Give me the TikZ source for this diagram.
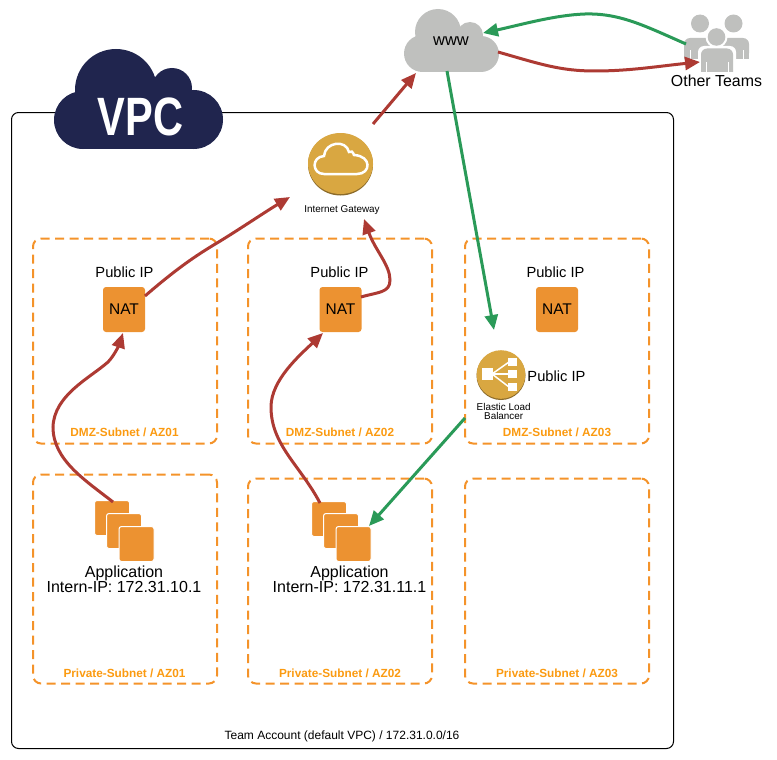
\documentclass[tikz,border=0pt]{standalone}
\usepackage{fontspec}
\setmainfont{Liberation Sans}
\usetikzlibrary{arrows.meta}
\definecolor{navy}{HTML}{20254E}
\definecolor{orangeA}{HTML}{EC9231}
\definecolor{dashO}{HTML}{F4932A}
\definecolor{labelO}{HTML}{FB9A10}
\definecolor{goldA}{HTML}{D9A741}
\definecolor{goldB}{HTML}{8C6B2A}
\definecolor{greyA}{HTML}{BFC0BE}
\definecolor{redA}{HTML}{AD3A33}
\definecolor{greenA}{HTML}{2A9A58}
\tikzset{
 x=1pt,y=-1pt,
 subnet/.style={draw=dashO,line width=2pt,dash pattern=on 9pt off 5.5pt,rounded corners=8pt,minimum width=184pt,inner sep=0pt},
 natbox/.style={fill=orangeA,rounded corners=3pt,minimum width=42pt,minimum height=45pt,inner sep=0pt,text=black,font=\fontsize{15.5}{17}\selectfont},
 appbox/.style={fill=orangeA,draw=white,line width=1pt,rounded corners=2.5pt,minimum width=35pt,minimum height=35pt,inner sep=0pt},
 lbl/.style={inner sep=0pt,font=\fontsize{14.7}{16.5}\selectfont,align=center},
 applbl/.style={inner sep=0pt,font=\fontsize{16}{15.5}\selectfont,align=center},
 sublbl/.style={inner sep=0pt,text=labelO,font=\fontsize{11.8}{13}\selectfont\bfseries},
 tiny/.style={inner sep=0pt,font=\fontsize{9.9}{9.3}\selectfont,align=center},
 redline/.style={draw=redA,line width=3pt,-{Triangle[length=15pt,width=13pt]}},
 greenline/.style={draw=greenA,line width=3pt,-{Triangle[length=15pt,width=13pt]}},
}
\begin{document}
\begin{tikzpicture}
\useasboundingbox (0,0) rectangle (777,760);
% account frame
\node[draw=black,line width=1pt,rounded corners=7pt,minimum width=662pt,minimum height=636pt,inner sep=0pt] (account) at (342.5,430.5) {};
\node[inner sep=0pt,font=\fontsize{12}{13}\selectfont] (accountlbl) at (342,736.5) {Team Account (default VPC) / 172.31.0.0/16};
% VPC cloud
\fill[navy] (116,90) circle (41);
\fill[navy] (172,88) circle (20);
\fill[navy] (83,120) circle (29);
\fill[navy] (193.5,119.5) circle (29.5);
\fill[navy] (83,100) rectangle (193,149);
\node[inner sep=0pt,text=white,font=\fontsize{54}{54}\selectfont\bfseries,xscale=0.77] (vpc) at (140.5,116.5) {VPC};
% www cloud
\fill[greyA] (438,32) circle (23);
\fill[greyA] (470,35) circle (13);
\fill[greyA] (422.5,53.5) circle (18.5);
\fill[greyA] (481,54) circle (18);
\fill[greyA] (422,38) rectangle (481,72);
\node[inner sep=0pt,font=\fontsize{16.5}{18}\selectfont] (www) at (451,41) {www};
% people
\fill[greyA] (700,23.5) circle (9);
\fill[greyA] (733.5,23.5) circle (9);
\fill[greyA,rounded corners=6pt] (684,59) -- (684,38) -- (749,38) -- (749,59) -- cycle;
\fill[greyA] (684,50) rectangle (749,59);
\fill[white] (690,50) rectangle (691,59);
\fill[white] (743,50) rectangle (744,59);
\fill[white] (716.5,37) circle (11);
\fill[greyA] (716.5,37) circle (8.8);
\fill[white,rounded corners=6pt] (698,75) -- (698,46) -- (736,46) -- (736,75) -- cycle;
\fill[greyA,rounded corners=6pt] (701,80) -- (701,48.5) -- (733,48.5) -- (733,80) -- cycle;
\fill[white] (685,72) rectangle (749,84);
\fill[white] (705.5,62) rectangle (706.5,72);
\fill[white] (728,62) rectangle (729,72);
\node[inner sep=0pt,font=\fontsize{15.9}{17}\selectfont] (teams) at (716.5,80.5) {Other Teams};
% gateway
\fill[goldB] (340.5,164.5) ellipse (32.5 and 31);
\fill[goldA] (340.5,163.5) ellipse (32.5 and 30.5);
\draw[white,line width=2.5pt] (324,174) .. controls (312,174) and (311,157) .. (324,156)
  .. controls (325,142) and (346,139) .. (349,152) .. controls (351,150) and (353,152) .. (354,155)
  .. controls (372,156) and (371,174) .. (357,174) -- cycle;
\node[inner sep=0pt,font=\fontsize{9.9}{10}\selectfont] (igw) at (342,210.5) {Internet Gateway};
% subnets
\node[subnet,minimum height=205pt] (dmz1) at (125,341) {};
\node[subnet,minimum height=205pt] (dmz2) at (340,341) {};
\node[subnet,minimum height=205pt] (dmz3) at (557,341) {};
\node[subnet,minimum height=209pt] (pri1) at (125,579) {};
\node[subnet,minimum height=205pt] (pri2) at (340,581) {};
\node[subnet,minimum height=205pt] (pri3) at (557,581) {};
\node[sublbl] (l1) at (124.5,432) {DMZ-Subnet / AZ01};
\node[sublbl] (l2) at (340,432) {DMZ-Subnet / AZ02};
\node[sublbl] (l3) at (557,432) {DMZ-Subnet / AZ03};
\node[sublbl] (l4) at (124.5,673) {Private-Subnet / AZ01};
\node[sublbl] (l5) at (340,673) {Private-Subnet / AZ02};
\node[sublbl] (l6) at (557,673) {Private-Subnet / AZ03};
% NAT
\node[lbl] (ip1) at (124.5,272.5) {Public IP};
\node[lbl] (ip2) at (339.5,272.5) {Public IP};
\node[lbl] (ip3) at (555.5,272.5) {Public IP};
\node[natbox] (nat1) at (124,309.5) {NAT};
\node[natbox] (nat2) at (340.5,309.5) {NAT};
\node[natbox] (nat3) at (557,309.5) {NAT};
% ELB
\fill[goldB] (501,375.5) circle (24.5);
\fill[goldA] (501,374.5) circle (24.3);
\fill[white] (482,368) rectangle (493,380);
\fill[white] (508,358) rectangle (517,366);
\fill[white] (508,370) rectangle (517,377.5);
\fill[white] (508,383) rectangle (517,390.5);
\draw[white,line width=1.5pt] (492,374) -- (509,362);
\draw[white,line width=1.5pt] (492,374) -- (509,374);
\draw[white,line width=1.5pt] (492,374) -- (509,387);
\node[lbl] (ip4) at (556.5,376.5) {Public IP};
\node[tiny] (elb) at (503.7,411.5) {Elastic Load\\Balancer};
% applications
\node[appbox] (a11) at (112,518) {};
\node[appbox] (a12) at (124,531) {};
\node[appbox] (a13) at (136.5,544) {};
\node[applbl] (app1) at (124,579.5) {Application\\Intern-IP: 172.31.10.1};
\node[appbox] (a21) at (329,519) {};
\node[appbox] (a22) at (341,531) {};
\node[appbox] (a23) at (353.5,544) {};
\node[applbl] (app2) at (349.5,579.5) {Application\\Intern-IP: 172.31.11.1};
% connector ends
\coordinate (igwOut) at (373,124);
\coordinate (wwwIn) at (416,73);
\coordinate (teamsOut) at (686,44);
\coordinate (wwwE) at (483,33);
\coordinate (wwwR) at (498,52);
\coordinate (teamsIn) at (700,62);
\coordinate (wwwB) at (447,71);
\coordinate (elbT) at (494,330);
\coordinate (elbL) at (465,418);
\coordinate (a23c) at (369,526);
\coordinate (nat1o) at (145,296);
\coordinate (igwL) at (290,197);
\coordinate (nat2o) at (361,297);
\coordinate (igwB) at (364,219);
\coordinate (a11t) at (113,502);
\coordinate (nat1b) at (123,333);
\coordinate (a21t) at (320,503);
\coordinate (nat2b) at (323,333);
\draw[redline] (igwOut) -- (wwwIn);
\draw[greenline] (teamsOut) .. controls (645,26) and (620,13) .. (585,14) .. controls (555,15) and (520,25) .. (wwwE);
\draw[redline] (wwwR) .. controls (540,64) and (560,71) .. (595,71) .. controls (630,71) and (660,66) .. (teamsIn);
\draw[greenline] (wwwB) -- (elbT);
\draw[greenline] (elbL) -- (a23c);
\draw[redline] (nat1o) .. controls (175,270) and (195,256) .. (217,243) .. controls (240,229) and (265,212) .. (igwL);
\draw[redline] (nat2o) .. controls (378,292) and (390,293) .. (390,280) .. controls (390,265) and (375,250) .. (igwB);
\draw[redline] (a11t) .. controls (85,480) and (53,460) .. (53,427) .. controls (54,395) and (90,378) .. (108,362) .. controls (114,356) and (119,345) .. (nat1b);
\draw[redline] (a21t) .. controls (300,465) and (271,445) .. (271,407) .. controls (271,380) and (300,355) .. (nat2b);
\end{tikzpicture}
\end{document}
